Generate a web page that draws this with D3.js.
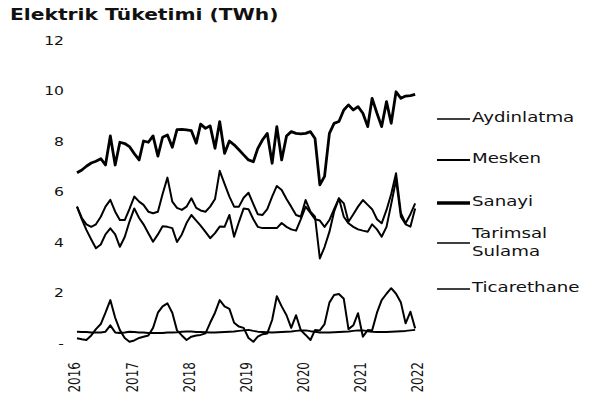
<!DOCTYPE html>
<html>
<head>
<meta charset="utf-8">
<script src="https://cdn.jsdelivr.net/npm/d3@7"></script>
<style>
  html, body { margin: 0; padding: 0; background: #fff; }
  svg { display: block; }
</style>
</head>
<body>
<svg id="chart" width="592" height="397"></svg>
<script>
// Monthly electricity consumption by subscriber group, Jan 2016 – Dec 2021 (TWh)
const title = "Elektrik Tüketimi (TWh)";
const yearLabels = ["2016", "2017", "2018", "2019", "2020", "2021", "2022"];
const yTickValues = [0, 2, 4, 6, 8, 10, 12];
const yTickLabels = ["-", "2", "4", "6", "8", "10", "12"];
const legendLabels = ["Aydinlatma", "Mesken", "Sanayi", "Tarimsal Sulama", "Ticarethane"];

const aydinlatma = [
  0.45, 0.44, 0.44, 0.42, 0.42, 0.42, 0.45, 0.70, 0.42, 0.40, 0.42, 0.45,
  0.44, 0.42, 0.42, 0.40, 0.40, 0.40, 0.40, 0.42, 0.42, 0.43, 0.45, 0.46,
  0.46, 0.44, 0.44, 0.43, 0.42, 0.42, 0.43, 0.44, 0.45, 0.46, 0.48, 0.50,
  0.52, 0.48, 0.45, 0.44, 0.43, 0.42, 0.43, 0.44, 0.45, 0.46, 0.48, 0.50,
  0.50, 0.47, 0.45, 0.42, 0.42, 0.42, 0.43, 0.44, 0.45, 0.46, 0.48, 0.50,
  0.50, 0.47, 0.45, 0.44, 0.44, 0.44, 0.45, 0.46, 0.47, 0.48, 0.50, 0.52
];
const mesken = [
  5.40, 4.90, 4.48, 4.10, 3.75, 3.90, 4.30, 4.54, 4.30, 3.81, 4.20, 4.80,
  5.33, 4.95, 4.70, 4.35, 4.01, 4.30, 4.62, 4.60, 4.55, 4.00, 4.30, 4.75,
  5.07, 4.85, 4.65, 4.40, 4.15, 4.35, 4.61, 4.60, 5.07, 4.21, 4.80, 5.33,
  5.30, 4.90, 4.60, 4.55, 4.55, 4.55, 4.55, 4.75, 4.60, 4.50, 4.45, 4.90,
  5.40, 5.15, 4.90, 4.85, 4.60, 4.87, 5.30, 5.73, 5.00, 4.74, 4.60, 4.50,
  4.45, 4.41, 4.70, 4.50, 4.21, 4.60, 5.50, 6.46, 5.00, 4.70, 4.61, 5.33
];
const sanayi = [
  6.74, 6.85, 7.00, 7.13, 7.20, 7.30, 7.05, 8.20, 7.05, 7.95, 7.90, 7.78,
  7.50, 7.25, 8.00, 7.95, 8.20, 7.40, 8.15, 8.24, 7.75, 8.45, 8.46, 8.44,
  8.41, 7.91, 8.67, 8.50, 8.60, 7.71, 8.77, 7.51, 8.00, 7.85, 7.65, 7.45,
  7.25, 7.18, 7.70, 8.05, 8.30, 7.12, 8.57, 7.25, 8.20, 8.37, 8.30, 8.28,
  8.30, 8.37, 8.10, 6.26, 6.60, 8.30, 8.70, 8.77, 9.23, 9.43, 9.23, 9.36,
  9.10, 8.57, 9.69, 9.10, 8.57, 9.56, 8.70, 9.95, 9.69, 9.78, 9.80, 9.85
];
const tarimsalSulama = [
  0.19, 0.15, 0.12, 0.30, 0.55, 0.75, 1.20, 1.70, 1.00, 0.51, 0.20, 0.05,
  0.10, 0.20, 0.25, 0.30, 0.60, 1.20, 1.45, 1.57, 1.20, 0.50, 0.30, 0.12,
  0.25, 0.30, 0.32, 0.38, 0.80, 1.20, 1.70, 1.45, 1.35, 0.80, 0.65, 0.60,
  0.20, 0.05, 0.25, 0.35, 0.38, 0.91, 1.85, 1.45, 1.10, 0.60, 1.10, 0.51,
  0.32, 0.12, 0.51, 0.50, 0.75, 1.60, 1.90, 1.94, 1.75, 0.55, 0.70, 1.18,
  0.25, 0.51, 0.50, 1.20, 1.70, 1.95, 2.17, 1.95, 1.60, 0.78, 1.24, 0.58
];
const ticarethane = [
  5.40, 4.95, 4.70, 4.60, 4.70, 5.00, 5.40, 5.67, 5.20, 4.87, 4.87, 5.30,
  5.80, 5.60, 5.47, 5.20, 5.14, 5.20, 5.90, 6.55, 5.60, 5.35, 5.27, 5.40,
  5.73, 5.35, 5.25, 5.20, 5.40, 5.70, 6.82, 6.30, 5.80, 5.40, 5.40, 5.75,
  5.95, 5.50, 5.10, 5.07, 5.30, 5.80, 6.22, 6.06, 5.70, 5.40, 5.07, 5.00,
  5.66, 5.20, 5.00, 3.35, 3.80, 4.40, 5.20, 5.73, 5.53, 4.80, 5.10, 5.40,
  5.66, 5.47, 5.30, 4.90, 4.74, 5.27, 5.90, 6.72, 5.14, 4.74, 5.10, 5.53
];

const series = [aydinlatma, mesken, sanayi, tarimsalSulama, ticarethane];
const lineWidths = [2, 2, 2.8, 2, 2];
const legendWidths = [1.4, 2, 3.4, 1.4, 1.4];

const svg = d3.select("#chart");
const FONT = "'DejaVu Sans', 'Liberation Sans', sans-serif";
const INK = "#111";

const months = d3.timeMonth.range(new Date(2016, 0, 1), new Date(2022, 0, 1));
const x = d3.scaleTime()
  .domain([new Date(2016, 0, 1), new Date(2022, 0, 1)])
  .range([77, 420]);
const y = d3.scaleLinear().domain([0, 12]).range([343, 40]);

// Title (wide lettering)
svg.append("text")
  .attr("transform", "translate(10,20) scale(1.35,1)")
  .attr("font-family", FONT)
  .attr("font-weight", "bold")
  .attr("font-size", 15)
  .attr("fill", INK)
  .text(title);

// Y axis: labels only
const yAxis = svg.append("g")
  .attr("transform", "translate(64,0)")
  .call(d3.axisLeft(y).tickValues(yTickValues)
    .tickFormat((d, i) => yTickLabels[i]).tickSize(0));
yAxis.select(".domain").remove();
yAxis.selectAll("text")
  .attr("x", 0)
  .attr("dy", "0.36em")
  .attr("transform", "scale(1.3,1)")
  .attr("font-family", FONT)
  .attr("font-size", 12)
  .attr("fill", INK);

// X axis: rotated year labels
const yearDates = yearLabels.map(s => new Date(+s, 0, 1));
const xAxis = svg.append("g")
  .attr("transform", "translate(0,343)")
  .call(d3.axisBottom(x).tickValues(yearDates)
    .tickFormat((d, i) => yearLabels[i]).tickSize(0));
xAxis.select(".domain").remove();
xAxis.selectAll("text")
  .attr("x", 0)
  .attr("y", 0)
  .attr("dy", "0.36em")
  .attr("text-anchor", "end")
  .attr("transform", "translate(-3,19) scale(1.38,1) rotate(-90)")
  .attr("font-family", FONT)
  .attr("font-size", 12)
  .attr("fill", INK);

// Series lines
const line = d3.line()
  .x((d, i) => x(months[i]))
  .y(d => y(d));

const drawOrder = [0, 3, 1, 4, 2];
drawOrder.forEach(k => {
  svg.append("path")
    .datum(series[k])
    .attr("d", line)
    .attr("fill", "none")
    .attr("stroke", "#000")
    .attr("stroke-width", lineWidths[k])
    .attr("stroke-linejoin", "round");
});

// Legend
const legendLineY = [119, 160, 203, 243, 289];
const legend = svg.append("g");
legendLabels.forEach((name, k) => {
  const ly = legendLineY[k];
  legend.append("line")
    .attr("x1", 437).attr("x2", 470)
    .attr("y1", ly).attr("y2", ly)
    .attr("stroke", "#000")
    .attr("stroke-width", legendWidths[k]);
  const words = name.split(" ");
  const t = legend.append("text")
    .attr("font-family", FONT)
    .attr("font-size", 14)
    .attr("fill", INK);
  if (words.length === 1) {
    t.attr("transform", `translate(472,${ly + 3}) scale(1.3,1)`).text(name);
  } else {
    t.attr("transform", `translate(472,${ly - 5}) scale(1.3,1)`);
    words.forEach((w, j) => {
      t.append("tspan").attr("x", 0).attr("dy", j === 0 ? 0 : 18).text(w);
    });
  }
});
</script>
</body>
</html>
